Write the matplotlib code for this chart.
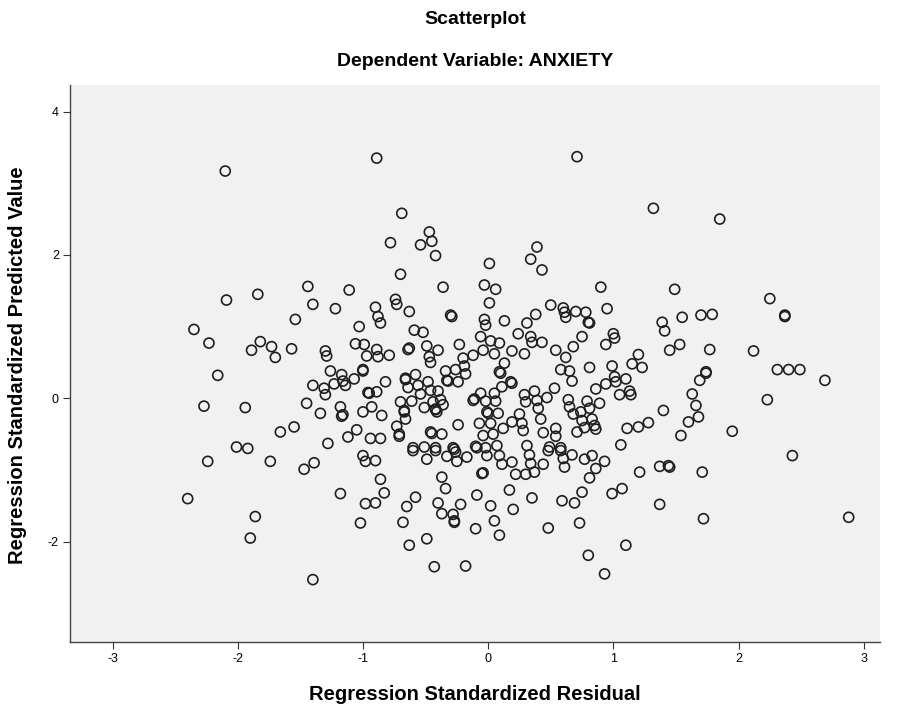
import matplotlib
matplotlib.use("Agg")
import matplotlib.pyplot as plt

plt.rcParams['font.family'] = ['Liberation Sans', 'DejaVu Sans']
plt.rcParams['axes.unicode_minus'] = False

# (standardized residual, standardized predicted value)
pts_top = [(-2.10, 3.17), (-0.89, 3.35), (-0.69, 2.58), (-0.78, 2.17), (-0.47, 2.32),
           (-0.54, 2.14), (-0.45, 2.19), (-0.42, 1.99), (-0.70, 1.73), (0.71, 3.37),
           (1.32, 2.65), (0.39, 2.11), (0.34, 1.94), (0.01, 1.88), (0.43, 1.79), (1.85, 2.50)]

pts_left = [(-2.09, 1.37), (-1.84, 1.45), (-2.35, 0.96), (-2.23, 0.77), (-1.82, 0.79),
            (-1.89, 0.67), (-1.73, 0.72), (-1.70, 0.57), (-2.16, 0.32), (-2.27, -0.11),
            (-1.94, -0.13), (-1.66, -0.47), (-2.01, -0.68), (-1.92, -0.70), (-2.24, -0.88),
            (-1.74, -0.88), (-2.40, -1.40), (-1.86, -1.65), (-1.90, -1.95)]

pts_low_mid = [(-1.47, -0.99), (-1.39, -0.90), (-1.00, -0.80), (-0.98, -0.88), (-0.90, -0.87),
               (-0.60, -0.73), (-0.49, -0.85), (-0.42, -0.73), (-0.33, -0.81), (-0.25, -0.88),
               (-0.17, -0.82), (-0.26, -0.75), (-0.05, -1.05), (-0.04, -1.04), (-0.86, -1.13),
               (-0.37, -1.10), (-0.34, -1.26), (-1.18, -1.33), (-0.83, -1.32), (-0.98, -1.47),
               (-0.90, -1.46), (-0.58, -1.38), (-0.65, -1.51), (-0.40, -1.46), (-0.37, -1.61),
               (-0.28, -1.62), (-0.27, -1.73), (-0.27, -1.71), (-0.22, -1.48), (-0.09, -1.35),
               (-0.10, -1.82), (-1.02, -1.74), (-0.68, -1.73), (-0.49, -1.96), (-0.63, -2.05),
               (-0.43, -2.35), (-0.18, -2.34), (-1.40, -2.53)]

pts_low_right = [(-0.01, -0.80), (0.09, -0.80), (0.11, -0.92), (0.19, -0.89), (0.22, -1.06),
                 (0.30, -1.06), (0.33, -0.79), (0.34, -0.91), (0.37, -1.03), (0.44, -0.92),
                 (0.48, -0.73), (0.58, -0.73), (0.60, -0.84), (0.61, -0.96), (0.67, -0.79),
                 (0.77, -0.85), (0.83, -0.80), (0.86, -0.98), (0.93, -0.88), (0.81, -1.11),
                 (1.21, -1.03), (1.37, -0.95), (1.44, -0.94), (1.45, -0.96), (0.17, -1.28),
                 (0.35, -1.39), (0.02, -1.50), (0.20, -1.55), (0.05, -1.71), (0.09, -1.91),
                 (0.59, -1.43), (0.69, -1.46), (0.75, -1.31), (0.99, -1.33), (1.07, -1.26),
                 (1.37, -1.48), (0.48, -1.81), (0.73, -1.74), (1.10, -2.05), (0.80, -2.19),
                 (0.93, -2.45), (1.71, -1.03), (2.43, -0.80), (1.72, -1.68), (2.88, -1.66)]

pts_right = [(2.25, 1.39), (2.37, 1.16), (2.37, 1.14), (1.70, 1.16), (1.79, 1.17),
             (1.77, 0.68), (2.12, 0.66), (1.74, 0.35), (1.74, 0.37), (1.69, 0.25),
             (2.31, 0.40), (2.40, 0.40), (2.49, 0.40), (2.69, 0.25), (1.63, 0.06),
             (1.66, -0.10), (1.68, -0.26), (1.60, -0.33), (2.23, -0.02), (1.95, -0.46)]

pts_center_r = [(-0.03, 1.58), (0.06, 1.52), (0.90, 1.55), (1.49, 1.52), (0.01, 1.33),
                (0.50, 1.30), (0.60, 1.26), (0.61, 1.20), (0.62, 1.13), (0.70, 1.21),
                (0.78, 1.20), (0.80, 1.06), (0.81, 1.05), (0.95, 1.25), (1.55, 1.13),
                (1.39, 1.06), (1.41, 0.94), (1.53, 0.75), (1.45, 0.67), (-0.03, 1.10),
                (-0.02, 1.02), (0.13, 1.08), (0.38, 1.17), (0.31, 1.05), (0.24, 0.90),
                (0.34, 0.86), (0.35, 0.78), (0.43, 0.78), (-0.06, 0.86), (0.02, 0.80),
                (0.09, 0.77), (-0.04, 0.67), (0.05, 0.62), (0.19, 0.66), (0.29, 0.62),
                (0.54, 0.67), (0.62, 0.57), (0.68, 0.72), (0.75, 0.86), (0.94, 0.75),
                (1.00, 0.90), (1.01, 0.84), (1.20, 0.61), (1.15, 0.48), (1.23, 0.43),
                (0.99, 0.45), (1.01, 0.30), (1.02, 0.23), (1.10, 0.27), (0.94, 0.20),
                (0.86, 0.13), (1.05, 0.05), (1.13, 0.10), (1.14, 0.05), (0.81, 0.43),
                (0.58, 0.40), (0.65, 0.38), (0.67, 0.24), (0.13, 0.49), (0.09, 0.37),
                (0.10, 0.35), (0.18, 0.23), (0.19, 0.21), (0.11, 0.16), (0.53, 0.14),
                (0.37, 0.10), (0.29, 0.05), (0.30, -0.05), (0.39, -0.03), (0.47, 0.01),
                (0.40, -0.14), (0.42, -0.29), (0.64, -0.02), (0.65, -0.12), (0.68, -0.22),
                (0.74, -0.19), (0.79, -0.04), (0.81, -0.14), (0.89, -0.07), (0.83, -0.29),
                (0.85, -0.38), (0.86, -0.43), (0.75, -0.31), (0.77, -0.41), (0.71, -0.47),
                (-0.06, 0.07), (-0.02, -0.04), (0.05, 0.07), (0.06, -0.04), (-0.01, -0.19),
                (0.00, -0.21), (0.08, -0.21), (0.02, -0.35), (0.12, -0.42), (0.19, -0.33),
                (0.25, -0.22), (0.27, -0.35), (0.28, -0.45), (-0.04, -0.52), (0.04, -0.50),
                (-0.02, -0.69), (0.07, -0.66), (0.31, -0.66), (0.44, -0.48), (0.54, -0.42),
                (0.54, -0.53), (0.49, -0.68), (0.58, -0.69), (1.11, -0.42), (1.20, -0.40),
                (1.28, -0.34), (1.40, -0.17), (1.54, -0.52), (1.06, -0.65)]

pts_center_l = [(-1.44, 1.56), (-1.11, 1.51), (-1.40, 1.31), (-1.22, 1.25), (-0.36, 1.55),
                (-0.90, 1.27), (-0.74, 1.38), (-0.73, 1.31), (-0.63, 1.21), (-0.30, 1.16),
                (-0.29, 1.14), (-0.88, 1.14), (-0.86, 1.05), (-1.54, 1.10), (-1.03, 1.00),
                (-0.59, 0.95), (-0.52, 0.92), (-1.57, 0.69), (-1.30, 0.66), (-1.29, 0.59),
                (-1.06, 0.76), (-0.99, 0.75), (-0.97, 0.59), (-0.89, 0.68), (-0.88, 0.58),
                (-0.79, 0.60), (-0.64, 0.68), (-0.63, 0.70), (-0.49, 0.73), (-0.40, 0.67),
                (-0.47, 0.58), (-0.46, 0.50), (-0.23, 0.75), (-0.20, 0.56), (-0.12, 0.60),
                (-1.26, 0.38), (-1.17, 0.33), (-1.16, 0.24), (-1.14, 0.18), (-1.07, 0.27),
                (-1.00, 0.38), (-1.00, 0.40), (-1.40, 0.18), (-1.31, 0.14), (-1.30, 0.05),
                (-1.23, 0.20), (-1.45, -0.07), (-1.34, -0.21), (-1.18, -0.12), (-1.17, -0.25),
                (-1.16, -0.23), (-0.95, 0.07), (-0.96, 0.08), (-0.89, 0.09), (-0.82, 0.23),
                (-0.66, 0.28), (-0.66, 0.26), (-0.58, 0.33), (-0.64, 0.15), (-0.56, 0.18),
                (-0.48, 0.23), (-0.54, 0.06), (-0.46, 0.11), (-0.40, 0.10), (-0.38, -0.02),
                (-0.34, 0.38), (-0.33, 0.25), (-0.32, 0.24), (-0.26, 0.40), (-0.19, 0.45),
                (-0.18, 0.34), (-0.24, 0.23), (-0.70, -0.05), (-0.61, -0.04), (-0.93, -0.12),
                (-1.00, -0.19), (-0.85, -0.24), (-0.67, -0.19), (-0.67, -0.17), (-0.66, -0.29),
                (-0.51, -0.13), (-0.44, -0.05), (-0.42, -0.15), (-0.42, -0.16), (-0.41, -0.19),
                (-0.36, -0.09), (-0.12, -0.03), (-0.11, -0.01), (-0.07, -0.35), (-0.24, -0.37),
                (-1.55, -0.40), (-1.05, -0.44), (-1.12, -0.54), (-1.28, -0.63), (-0.94, -0.56),
                (-0.86, -0.56), (-0.73, -0.39), (-0.71, -0.53), (-0.71, -0.50), (-0.46, -0.47),
                (-0.45, -0.49), (-0.37, -0.50), (-0.60, -0.69), (-0.51, -0.68), (-0.42, -0.69),
                (-0.28, -0.69), (-0.27, -0.71), (-0.10, -0.67), (-0.09, -0.69)]

x_ticks = [-3, -2, -1, 0, 1, 2, 3]
y_ticks = [-2, 0, 2, 4]

all_pts = pts_top + pts_left + pts_low_mid + pts_low_right + pts_right + pts_center_r + pts_center_l
resid = [p[0] for p in all_pts]
pred = [p[1] for p in all_pts]

fig = plt.figure(figsize=(8.97, 7.12), dpi=100)
ax = fig.add_axes([70/897, 1 - 642/712, 810/897, 557/712])
ax.set_facecolor('#f0f1f0')

ax.scatter(resid, pred, s=52, facecolors='none', edgecolors='#1e1e1e', linewidths=1.2)

ax.set_xlim(-3.34, 3.13)
ax.set_ylim(-3.40, 4.37)
ax.set_xticks(x_ticks)
ax.set_yticks(y_ticks)
ax.tick_params(labelsize=9, length=5, width=0.8, color='#333333', pad=3)
for s in ['top', 'right']:
    ax.spines[s].set_visible(False)
for s in ['left', 'bottom']:
    ax.spines[s].set_color('#444444')
    ax.spines[s].set_linewidth(1.0)

cx = 475/897
fig.text(cx, 1 - 20/712, 'Scatterplot', ha='center', va='center', fontsize=14, fontweight='bold')
fig.text(cx, 1 - 62/712, 'Dependent Variable: ANXIETY', ha='center', va='center', fontsize=14, fontweight='bold')
fig.text(cx, 1 - 695/712, 'Regression Standardized Residual', ha='center', va='center', fontsize=14.5, fontweight='bold')
fig.text(18/897, 1 - 365/712, 'Regression Standardized Predicted Value', ha='center', va='center',
         rotation=90, fontsize=14.5, fontweight='bold')

fig.savefig('out.png', dpi=100)
